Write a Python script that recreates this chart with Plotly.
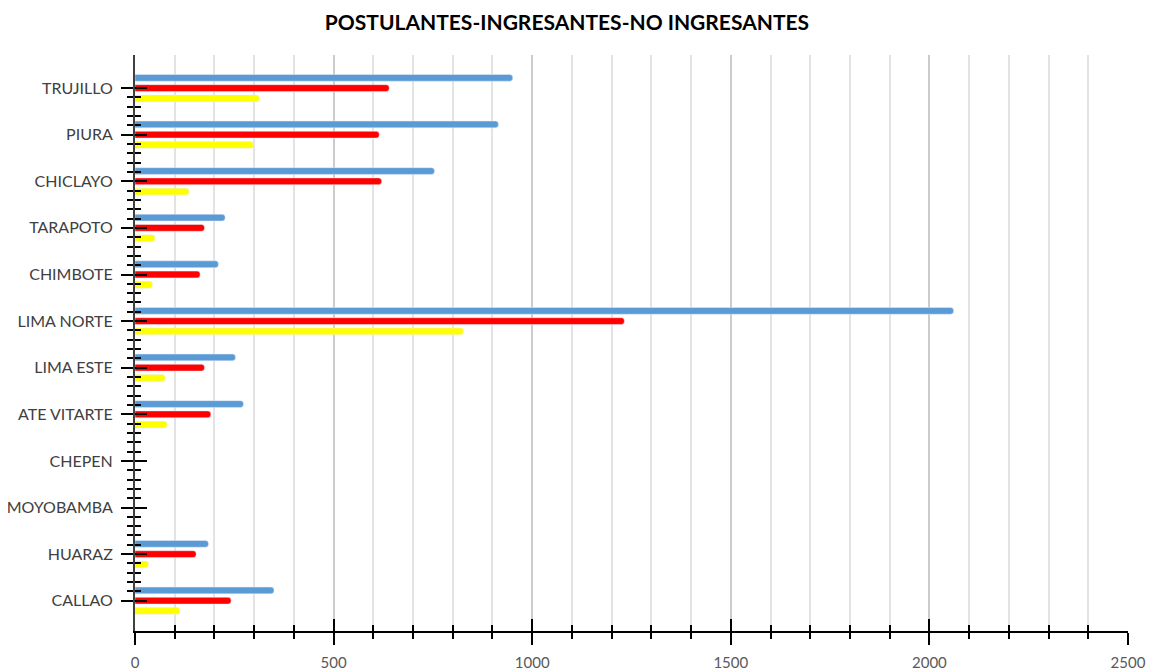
import plotly.graph_objects as go

# Categories listed bottom-to-top (CALLAO at the bottom of the chart)
sedes = ["CALLAO", "HUARAZ", "MOYOBAMBA", "CHEPEN", "ATE VITARTE", "LIMA ESTE",
         "LIMA NORTE", "CHIMBOTE", "TARAPOTO", "CHICLAYO", "PIURA", "TRUJILLO"]
postulantes = [350, 185, 0, 0, 273, 253, 2061, 210, 227, 754, 915, 951]
ingresantes = [242, 154, 0, 0, 191, 175, 1232, 164, 175, 621, 615, 640]
no_ingresantes = [113, 34, 0, 0, 81, 76, 827, 44, 50, 136, 298, 313]

x_ticks = [0, 500, 1000, 1500, 2000, 2500]

pos = list(range(len(sedes)))
label_font = dict(family="Lato, Open Sans, sans-serif", size=16, color="#404040")

fig = go.Figure()
# plotly stacks grouped horizontal bars from the bottom up: yellow, red, blue
fig.add_trace(go.Bar(y=pos, x=no_ingresantes, orientation="h", name="NO INGRESANTES",
                     marker=dict(color="#FFFF00", cornerradius=3)))
fig.add_trace(go.Bar(y=pos, x=ingresantes, orientation="h", name="INGRESANTES",
                     marker=dict(color="#FF0000", cornerradius=3)))
fig.add_trace(go.Bar(y=pos, x=postulantes, orientation="h", name="POSTULANTES",
                     marker=dict(color="#5B9BD5", cornerradius=3)))
# dummy trace so the overlay axes (inner half of the crossing ticks) get drawn
fig.add_trace(go.Scatter(x=[None], y=[None], xaxis="x2", yaxis="y2",
                         showlegend=False, hoverinfo="skip"))

y_range = [-0.65, 11.71]
x_range = [0, 2500]
minor_y = [i / 5 for i in range(0, 5 * (len(sedes) - 1) + 1) if i % 5]

# page body has an 8px margin, so the figure is a bit smaller than the window
fig.update_layout(
    width=1149, height=664,
    margin=dict(l=127, r=29, t=47, b=41, autoexpand=False),
    paper_bgcolor="white", plot_bgcolor="white",
    showlegend=False,
    barmode="group", bargap=0.34, bargroupgap=0.34,
    title=dict(text="<b>POSTULANTES-INGRESANTES-NO INGRESANTES</b>",
               x=0.4865, xanchor="center", y=0.978, yanchor="middle", automargin=False,
               font=dict(family="Lato, Open Sans, sans-serif", size=21, color="#000000")),
    xaxis=dict(range=x_range, tickvals=x_ticks, ticks="outside", ticklen=12,
               tickwidth=2, tickcolor="black", showline=True, linecolor="black",
               linewidth=2, showgrid=True, gridcolor="#cccccc", gridwidth=2,
               zeroline=False, ticklabelstandoff=5, automargin=False,
               tickfont=dict(family="Lato, Open Sans, sans-serif", size=15, color="#595959"),
               minor=dict(dtick=100, tick0=0, ticks="outside", ticklen=6, tickwidth=2,
                          tickcolor="black", showgrid=True, gridcolor="#e3e3e3", gridwidth=2)),
    yaxis=dict(range=y_range, tickvals=pos, ticktext=sedes, ticks="outside", ticklen=12,
               tickwidth=2, tickcolor="black", showline=True, linecolor="#404040",
               linewidth=2, showgrid=False, zeroline=False, ticklabelstandoff=5,
               automargin=False, tickfont=label_font,
               minor=dict(tickmode="array", tickvals=minor_y, ticks="outside", ticklen=6,
                          tickwidth=2, tickcolor="black", showgrid=False)),
    xaxis2=dict(overlaying="x", anchor="y", side="bottom", range=x_range,
                tickvals=x_ticks, ticks="inside", ticklen=12, tickwidth=2, tickcolor="black",
                showticklabels=False, showgrid=False, showline=False, zeroline=False,
                automargin=False,
                minor=dict(dtick=100, tick0=0, ticks="inside", ticklen=6, tickwidth=2,
                           tickcolor="black", showgrid=False)),
    yaxis2=dict(overlaying="y", anchor="x", side="left", range=y_range,
                tickvals=pos, ticks="inside", ticklen=12, tickwidth=2, tickcolor="black",
                showticklabels=False, showgrid=False, showline=False, zeroline=False,
                automargin=False,
                minor=dict(tickmode="array", tickvals=minor_y, ticks="inside", ticklen=6,
                           tickwidth=2, tickcolor="black", showgrid=False)),
)

fig.write_html("out.html")
